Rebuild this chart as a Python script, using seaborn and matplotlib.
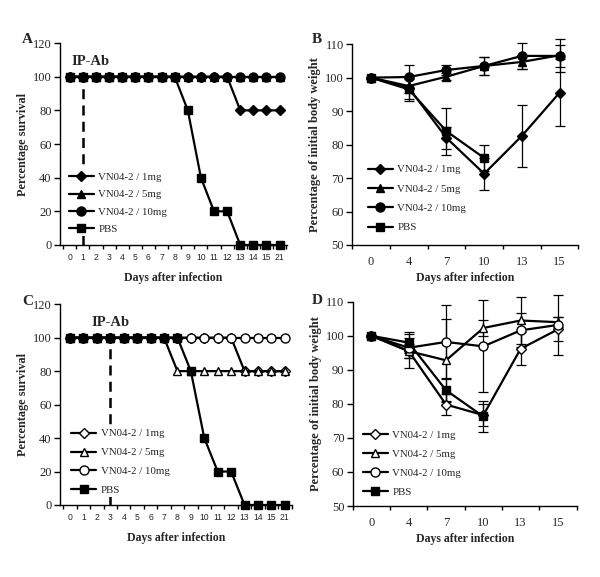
import matplotlib
matplotlib.use("Agg")
import matplotlib.pyplot as plt
import seaborn as sns
from matplotlib.lines import Line2D
from matplotlib.ticker import FixedLocator, NullFormatter

# survival panels (A, C): days are categories on the x axis
surv_days = ['0', '1', '2', '3', '4', '5', '6', '7', '8', '9', '10', '11', '12', '13', '14', '15', '21']

a_1mg = [100, 100, 100, 100, 100, 100, 100, 100, 100, 100, 100, 100, 100, 80, 80, 80, 80]
a_5mg = [100, 100, 100, 100, 100, 100, 100, 100, 100, 100, 100, 100, 100, 100, 100, 100, 100]
a_10mg = [100, 100, 100, 100, 100, 100, 100, 100, 100, 100, 100, 100, 100, 100, 100, 100, 100]
a_pbs = [100, 100, 100, 100, 100, 100, 100, 100, 100, 80, 40, 20, 20, 0, 0, 0, 0]

c_1mg = [100, 100, 100, 100, 100, 100, 100, 100, 100, 100, 100, 100, 100, 80, 80, 80, 80]
c_5mg = [100, 100, 100, 100, 100, 100, 100, 100, 80, 80, 80, 80, 80, 80, 80, 80, 80]
c_10mg = [100, 100, 100, 100, 100, 100, 100, 100, 100, 100, 100, 100, 100, 100, 100, 100, 100]
c_pbs = [100, 100, 100, 100, 100, 100, 100, 100, 100, 80, 40, 20, 20, 0, 0, 0, 0]

# body weight panels (B, D)
wt_days = ['0', '4', '7', '10', '13', '15']
pbs_days = ['0', '4', '7', '10']

b_1mg = [100, 97, 82, 71.3, 82.6, 95.5]
b_1mg_err = [0, 3.5, 3.2, 4.8, 9.3, 10]
b_5mg = [100, 97.5, 100.3, 103.5, 104.7, 106.7]
b_5mg_err = [0, 2, 1, 2.8, 2.2, 5]
b_10mg = [100, 100.2, 102.3, 103.5, 106.5, 106.5]
b_10mg_err = [0, 3.5, 1.5, 2.8, 3.8, 3.3]
b_pbs = [100, 96.5, 84, 76]
b_pbs_err = [0, 3.5, 7, 4]

d_1mg = [100, 95.5, 79.8, 76.7, 96.2, 101.9]
d_1mg_err = [0, 5, 3, 3.3, 4.8, 3.5]
d_5mg = [100, 95.5, 92.8, 102.3, 104.5, 104]
d_5mg_err = [0, 2, 12, 2.4, 7, 1.5]
d_10mg = [100, 96.5, 98.2, 96.9, 101.6, 103.2]
d_10mg_err = [0, 3, 10.8, 13.5, 5, 8.7]
d_pbs = [100, 98, 84, 76.3]
d_pbs_err = [0, 3, 3.5, 4.5]

labels = ['VN04-2 / 1mg', 'VN04-2 / 5mg', 'VN04-2 / 10mg', 'PBS']
markers = ['D', '^', 'o', 's']
msizes = [5, 6, 6.5, 5.5]

sns.set_theme(style="white")
plt.rcParams['font.family'] = ['Liberation Serif', 'DejaVu Serif']
plt.rcParams['axes.edgecolor'] = 'black'
plt.rcParams['axes.linewidth'] = 1.0

SERIF = 'Liberation Serif'
SANS = 'Liberation Sans'


def style_axes(ax, ymin, ymax, ystep, n_cat):
    sns.despine(ax=ax)
    ax.set_ylim(ymin, ymax)
    ax.set_yticks(list(range(ymin, ymax + 1, ystep)))
    ax.tick_params(axis='y', direction='out', length=4, width=1, color='black',
                   labelsize=9, pad=2, left=True)
    # tick marks sit between the day categories
    ax.xaxis.set_minor_locator(FixedLocator([i - 0.5 for i in range(n_cat + 1)]))
    ax.xaxis.set_minor_formatter(NullFormatter())
    ax.tick_params(axis='x', which='major', length=0)
    ax.tick_params(axis='x', which='minor', direction='out', length=3, width=1,
                   color='black', bottom=True)
    for lab in ax.get_yticklabels():
        lab.set_family(SERIF)


def add_legend(ax, filled, x0, y0, spacing):
    handles = []
    for i, (lab, m) in enumerate(zip(labels, markers)):
        fc = 'black' if (filled or lab == 'PBS') else 'white'
        handles.append(Line2D([], [], color='black', lw=1.6, marker=m,
                              markersize=msizes[i], markerfacecolor=fc,
                              markeredgecolor='black', markeredgewidth=1))
    leg = ax.legend(handles, labels, loc='upper left', bbox_to_anchor=(x0, y0),
                    frameon=True, fancybox=False, framealpha=1, borderpad=0.2,
                    borderaxespad=0, handlelength=2.3, handletextpad=0.4,
                    labelspacing=spacing, prop={'family': SERIF, 'size': 7.8})
    leg.get_frame().set_facecolor('white')
    leg.get_frame().set_linewidth(0)
    leg.set_zorder(5)


def survival_panel(ax, series, filled, ip_day, ip_x, leg_pos):
    for i, vals in enumerate(series):
        fc = 'black' if (filled or i == 3) else 'white'
        sns.pointplot(x=surv_days, y=vals, order=surv_days, ax=ax, errorbar=None,
                      color='black', markers=markers[i], linestyles='-',
                      markersize=msizes[i], markerfacecolor=fc,
                      markeredgecolor='black', markeredgewidth=1,
                      linewidth=1.6, clip_on=False, zorder=3 + i * 0.1)
    style_axes(ax, 0, 120, 20, len(surv_days))
    ax.set_xlim(-0.75, 16.55)
    pos = surv_days.index(ip_day)
    ax.vlines(pos, 0, 105, colors='black', linestyles=(0, (4, 2.5)), lw=1.8, zorder=4)
    ax.text(ip_x, 109, 'IP-Ab', ha='center', va='center', fontsize=10.5,
            fontweight='bold', family=SERIF)
    ax.tick_params(axis='x', which='major', labelsize=6.2, pad=6)
    for lab in ax.get_xticklabels():
        lab.set_family(SANS)
    ax.set_xlabel('Days after infection', fontsize=8.5, fontweight='bold',
                  family=SERIF, labelpad=7)
    ax.set_ylabel('Percentage survival', fontsize=8.8, fontweight='bold',
                  family=SERIF, labelpad=3)
    add_legend(ax, filled, *leg_pos)


def weight_panel(ax, series, errs, filled, leg_pos):
    for i, (vals, err) in enumerate(zip(series, errs)):
        days = pbs_days if i == 3 else wt_days
        fc = 'black' if (filled or i == 3) else 'white'
        pos = [wt_days.index(d) for d in days]
        ax.errorbar(pos, vals, yerr=err, fmt='none', ecolor='black', elinewidth=0.9,
                    capsize=3.5, capthick=0.9, zorder=2, clip_on=False)
        sns.pointplot(x=days, y=vals, order=wt_days, ax=ax, errorbar=None,
                      color='black', markers=markers[i], linestyles='-',
                      markersize=msizes[i], markerfacecolor=fc,
                      markeredgecolor='black', markeredgewidth=1,
                      linewidth=1.6, zorder=3 + i * 0.1)
    style_axes(ax, 50, 110, 10, len(wt_days))
    ax.set_xlim(-0.5, 5.5)
    ax.tick_params(axis='x', which='major', labelsize=9, pad=8)
    for lab in ax.get_xticklabels():
        lab.set_family(SERIF)
    ax.set_xlabel('Days after infection', fontsize=8.5, fontweight='bold',
                  family=SERIF, labelpad=3)
    ax.set_ylabel('Percentage of initial body weight', fontsize=9,
                  fontweight='bold', family=SERIF, labelpad=3)
    add_legend(ax, filled, *leg_pos)


fig = plt.figure(figsize=(6, 5.77), dpi=100)
fig.patch.set_facecolor('white')
axA = fig.add_axes([0.100, 0.5754, 0.378, 0.350])
axB = fig.add_axes([0.587, 0.5754, 0.377, 0.348])
axC = fig.add_axes([0.100, 0.1248, 0.387, 0.348])
axD = fig.add_axes([0.588, 0.1230, 0.373, 0.354])

survival_panel(axA, [a_1mg, a_5mg, a_10mg, a_pbs], True, '1', 1.6, (0.03, 0.37, 0.72))
weight_panel(axB, [b_1mg, b_5mg, b_10mg, b_pbs],
             [b_1mg_err, b_5mg_err, b_10mg_err, b_pbs_err], True, (0.06, 0.41, 0.9))
survival_panel(axC, [c_1mg, c_5mg, c_10mg, c_pbs], False, '3', 3.05, (0.04, 0.39, 0.86))
weight_panel(axD, [d_1mg, d_5mg, d_10mg, d_pbs],
             [d_1mg_err, d_5mg_err, d_10mg_err, d_pbs_err], False, (0.036, 0.38, 0.86))

for x, y, letter in [(0.037, 0.925, 'A'), (0.52, 0.925, 'B'),
                     (0.037, 0.471, 'C'), (0.52, 0.473, 'D')]:
    fig.text(x, y, letter, fontsize=11, fontweight='bold', family=SERIF,
             ha='left', va='baseline')

fig.savefig('out.png', dpi=100, facecolor='white')
